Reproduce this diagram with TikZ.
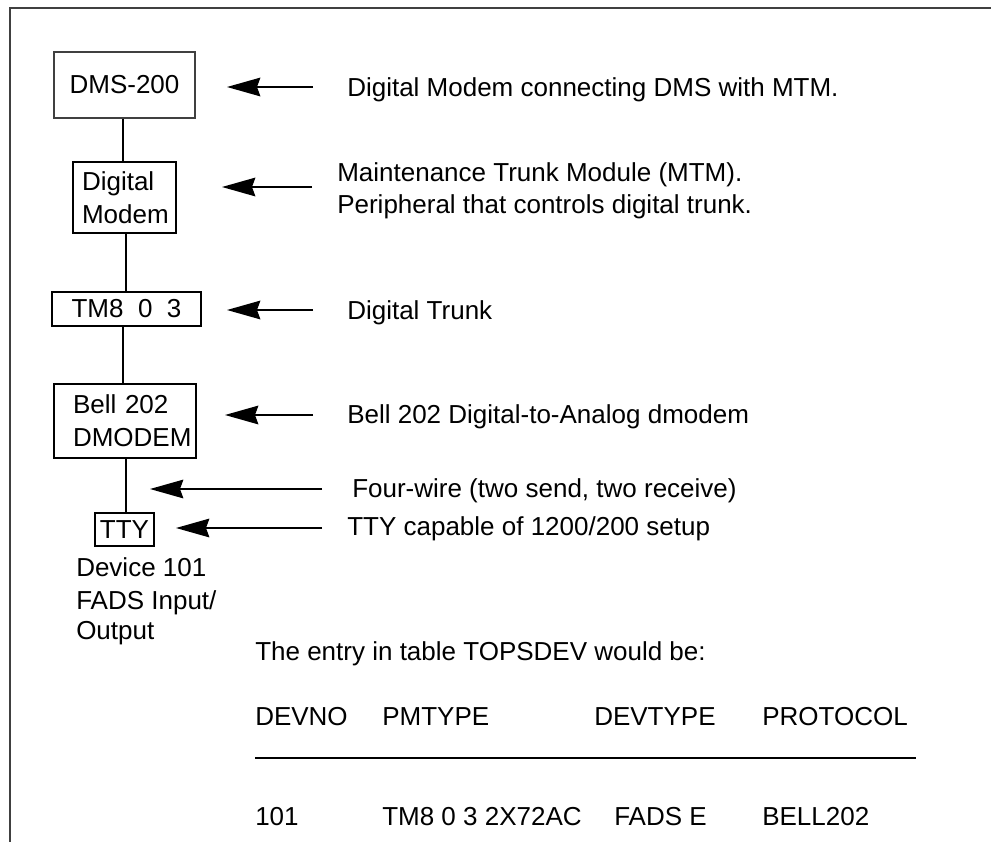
\documentclass[tikz,border=0pt]{standalone}
\usepackage{fontspec}
\setmainfont{Liberation Sans}
\usetikzlibrary{arrows.meta}
\begin{document}
\begin{tikzpicture}[x=0.75pt,y=-0.75pt,
  every node/.style={font=\fontsize{19.5pt}{24.5pt}\selectfont, inner sep=0pt},
  box/.style={draw, line width=1.1pt, inner sep=0pt},
  thinbox/.style={draw=black!75, line width=0.8pt, inner sep=0pt},
  conn/.style={line width=1.2pt},
  arr/.style={line width=1.2pt, -{Stealth[length=25pt,width=14pt,inset=2.5pt]}},
  note/.style={anchor=base west},
  tab/.style={anchor=base west},
  frame/.style={draw=black!75, line width=1.2pt}]
\useasboundingbox (0,0) rectangle (991,842);
\draw[frame] (991,8) -- (10,8) -- (10,842);

% boxes
\node[thinbox, minimum width=105.75pt, minimum height=49.5pt] (dms) at (124.5,85) {DMS-200};
\node[box, minimum width=77.25pt, minimum height=53.25pt, align=left, text width=63.75pt, inner xsep=6.75pt] (dm) at (124.5,197.5) {Digital\\Modem};
\node[box, minimum width=111.75pt, minimum height=25.5pt] (tm) at (126.5,309) {TM8~~0~~3};
\node[box, minimum width=106.5pt, minimum height=55.5pt, align=left, text width=78pt, inner xsep=14.25pt] (bell) at (125,421) {Bell 202\\DMODEM};
\node[box, minimum width=44.25pt, minimum height=24.75pt] (tty) at (124.5,529.5) {TTY};

% connectors
\coordinate (xa) at (123,0);
\coordinate (xb) at (126,0);
\draw[conn] (dms.south -| xa) -- (dm.north -| xa);
\draw[conn] (dm.south -| xb) -- (tm.north -| xb);
\draw[conn] (tm.south -| xa) -- (bell.north -| xa);
\draw[conn] (bell.south -| xb) -- (tty.north -| xb);

% notes
\node[note] (n1) at (347,96) {Digital Modem connecting DMS with MTM.};
\node[note] (n2a) at (337,181) {Maintenance Trunk Module (MTM).};
\node[note] (n2b) at (337,213) {Peripheral that controls digital trunk.};
\node[note] (n3) at (347,319) {Digital Trunk};
\node[note] (n4) at (347,423) {Bell 202 Digital-to-Analog dmodem};
\node[note] (n5) at (352,497) {Four-wire (two send, two receive)};
\node[note] (n6) at (347,535) {TTY capable of 1200/200 setup};

% arrows
\coordinate (a1t) at (313,87);  \coordinate (a1h) at (227,87);
\coordinate (a2t) at (312,187); \coordinate (a2h) at (222,187);
\coordinate (a3t) at (313,310); \coordinate (a3h) at (227,310);
\coordinate (a4t) at (313,415); \coordinate (a4h) at (225,415);
\coordinate (a5t) at (322,489); \coordinate (a5h) at (150,489);
\coordinate (a6t) at (322,528); \coordinate (a6h) at (176,528);
\draw[arr] (a1t) -- (a1h);
\draw[arr] (a2t) -- (a2h);
\draw[arr] (a3t) -- (a3h);
\draw[arr] (a4t) -- (a4h);
\draw[arr] (a5t) -- (a5h);
\draw[arr] (a6t) -- (a6h);

% device label
\node[note] (d1) at (76,576) {Device 101};
\node[note] (d2) at (76,609) {FADS Input/};
\node[note] (d3) at (76,639) {Output};

% table
\node[tab] (t0) at (255,660) {The entry in table TOPSDEV would be:};
\node[tab] (h1) at (255,725) {DEVNO};
\node[tab] (h2) at (382,725) {PMTYPE};
\node[tab] (h3) at (594,725) {DEVTYPE};
\node[tab] (h4) at (762,725) {PROTOCOL};
\coordinate (u1) at (255,758); \coordinate (u2) at (916,758);
\draw[line width=0.9pt] (u1) -- (u2);
\node[tab] (r1) at (255,825) {101};
\node[tab] (r2) at (382,825) {TM8 0 3 2X72AC};
\node[tab] (r3) at (614,825) {FADS E};
\node[tab] (r4) at (762,825) {BELL202};
\end{tikzpicture}
\end{document}
